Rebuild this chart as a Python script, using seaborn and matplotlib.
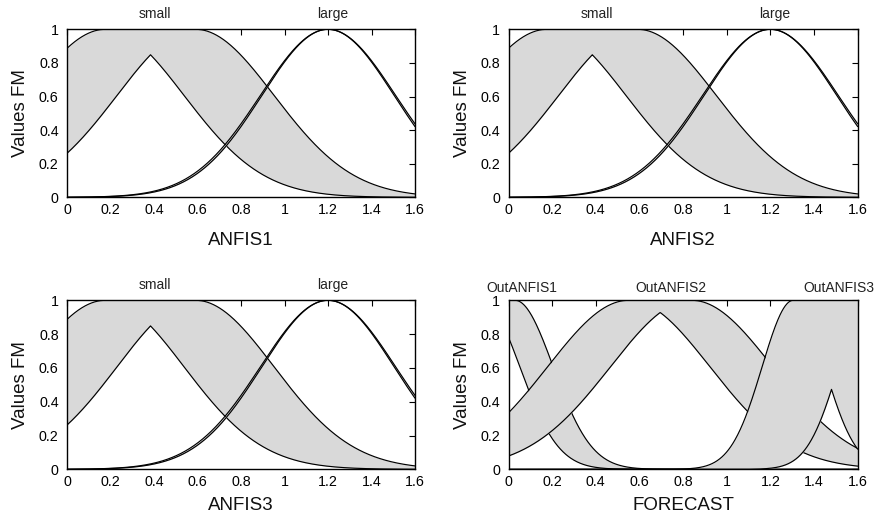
import numpy as np
import pandas as pd
import matplotlib
matplotlib.use("Agg")
import matplotlib.pyplot as plt
from matplotlib.ticker import FuncFormatter
import seaborn as sns

# Interval type-2 Gaussian membership functions.
# Each fuzzy set: a pair of means (uncertain mean) and a pair of sigmas.
input_panels = ["ANFIS1", "ANFIS2", "ANFIS3"]
input_sets = ["small", "large"]
input_means = [[0.177, 0.591], [1.2, 1.2]]
input_sigmas = [[0.361, 0.361], [0.304, 0.311]]
input_label_x = [0.403, 1.221]

output_panel = "FORECAST"
output_sets = ["OutANFIS1", "OutANFIS2", "OutANFIS3"]
output_means = [[-0.123, 0.03], [0.551, 0.839], [1.305, 1.655]]
output_sigmas = [[0.175, 0.175], [0.372, 0.372], [0.143, 0.143]]
output_label_x = [0.06, 0.744, 1.512]

x_ticks = [0, 0.2, 0.4, 0.6, 0.8, 1, 1.2, 1.4, 1.6]
y_ticks = [0, 0.2, 0.4, 0.6, 0.8, 1]

FILL = "#d9d9d9"
FONT = ["Liberation Sans", "DejaVu Sans"]

sns.set_theme(style="white")
plt.rcParams["font.family"] = FONT

x = np.linspace(0, 1.6, 801)


def gauss(v, m, s):
    return np.exp(-((v - m) ** 2) / (2 * s * s))


def it2_bounds(means, sigmas):
    m1, m2 = sorted(means)
    s_lo, s_hi = min(sigmas), max(sigmas)
    upper = np.where(x < m1, gauss(x, m1, s_hi),
                     np.where(x > m2, gauss(x, m2, s_hi), 1.0))
    lower = np.minimum(gauss(x, m1, s_lo), gauss(x, m2, s_lo))
    return lower, upper


def draw_panel(ax, names, means, sigmas, label_x, xlabel, label_y, xpad):
    for k, (name, m, s) in enumerate(zip(names, means, sigmas)):
        lo, up = it2_bounds(m, s)
        ax.fill_between(x, lo, up, color=FILL, linewidth=0, zorder=2 * k + 1)
        df = pd.DataFrame({"x": np.concatenate([x, x]),
                           "mu": np.concatenate([lo, up]),
                           "bound": ["lower"] * len(x) + ["upper"] * len(x)})
        for b in ["lower", "upper"]:
            sns.lineplot(data=df[df["bound"] == b], x="x", y="mu", ax=ax,
                         color="black", linewidth=0.85, zorder=2 * k + 2,
                         estimator=None, sort=False)
        ax.text(label_x[k], label_y, name, ha="center", va="baseline",
                fontsize=10, color="#222222", transform=ax.transData,
                clip_on=False)
    ax.set_xlim(0, 1.6)
    ax.set_ylim(0, 1)
    ax.set_xticks(x_ticks)
    ax.set_yticks(y_ticks)
    fmt = FuncFormatter(lambda v, p: "%g" % v)
    ax.xaxis.set_major_formatter(fmt)
    ax.yaxis.set_major_formatter(fmt)
    ax.tick_params(direction="in", top=True, right=True, length=4, width=0.8,
                   labelsize=10.3, colors="black")
    ax.tick_params(axis="x", pad=4)
    ax.tick_params(axis="y", pad=6)
    ax.set_xlabel(xlabel, fontsize=13.5, labelpad=xpad, color="#111111")
    ax.set_ylabel("Values FM", fontsize=13.5, labelpad=7, color="#111111")
    for sp in ax.spines.values():
        sp.set_color("black")
        sp.set_linewidth(1.0)
        sp.set_zorder(20)


W, H = 880, 522
fig = plt.figure(figsize=(W / 100, H / 100), dpi=100)
fig.patch.set_facecolor("white")

cols = [(67, 415), (508.5, 857.7)]
rows = [(29.3, 197.3), (300.3, 469.3)]


def rect(c, r):
    (l, rr), (t, b) = cols[c], rows[r]
    return [l / W, 1 - b / H, (rr - l) / W, (b - t) / H]


axes = [fig.add_axes(rect(0, 0)), fig.add_axes(rect(1, 0)),
        fig.add_axes(rect(0, 1)), fig.add_axes(rect(1, 1))]

for i, name in enumerate(input_panels):
    ax = axes[i]
    draw_panel(ax, input_sets, input_means, input_sigmas, input_label_x,
               name, 1.065, 11 if i < 2 else 6)

draw_panel(axes[3], output_sets, output_means, output_sigmas, output_label_x,
           output_panel, 1.051, 6)

fig.savefig("out.png", dpi=100, facecolor="white")
